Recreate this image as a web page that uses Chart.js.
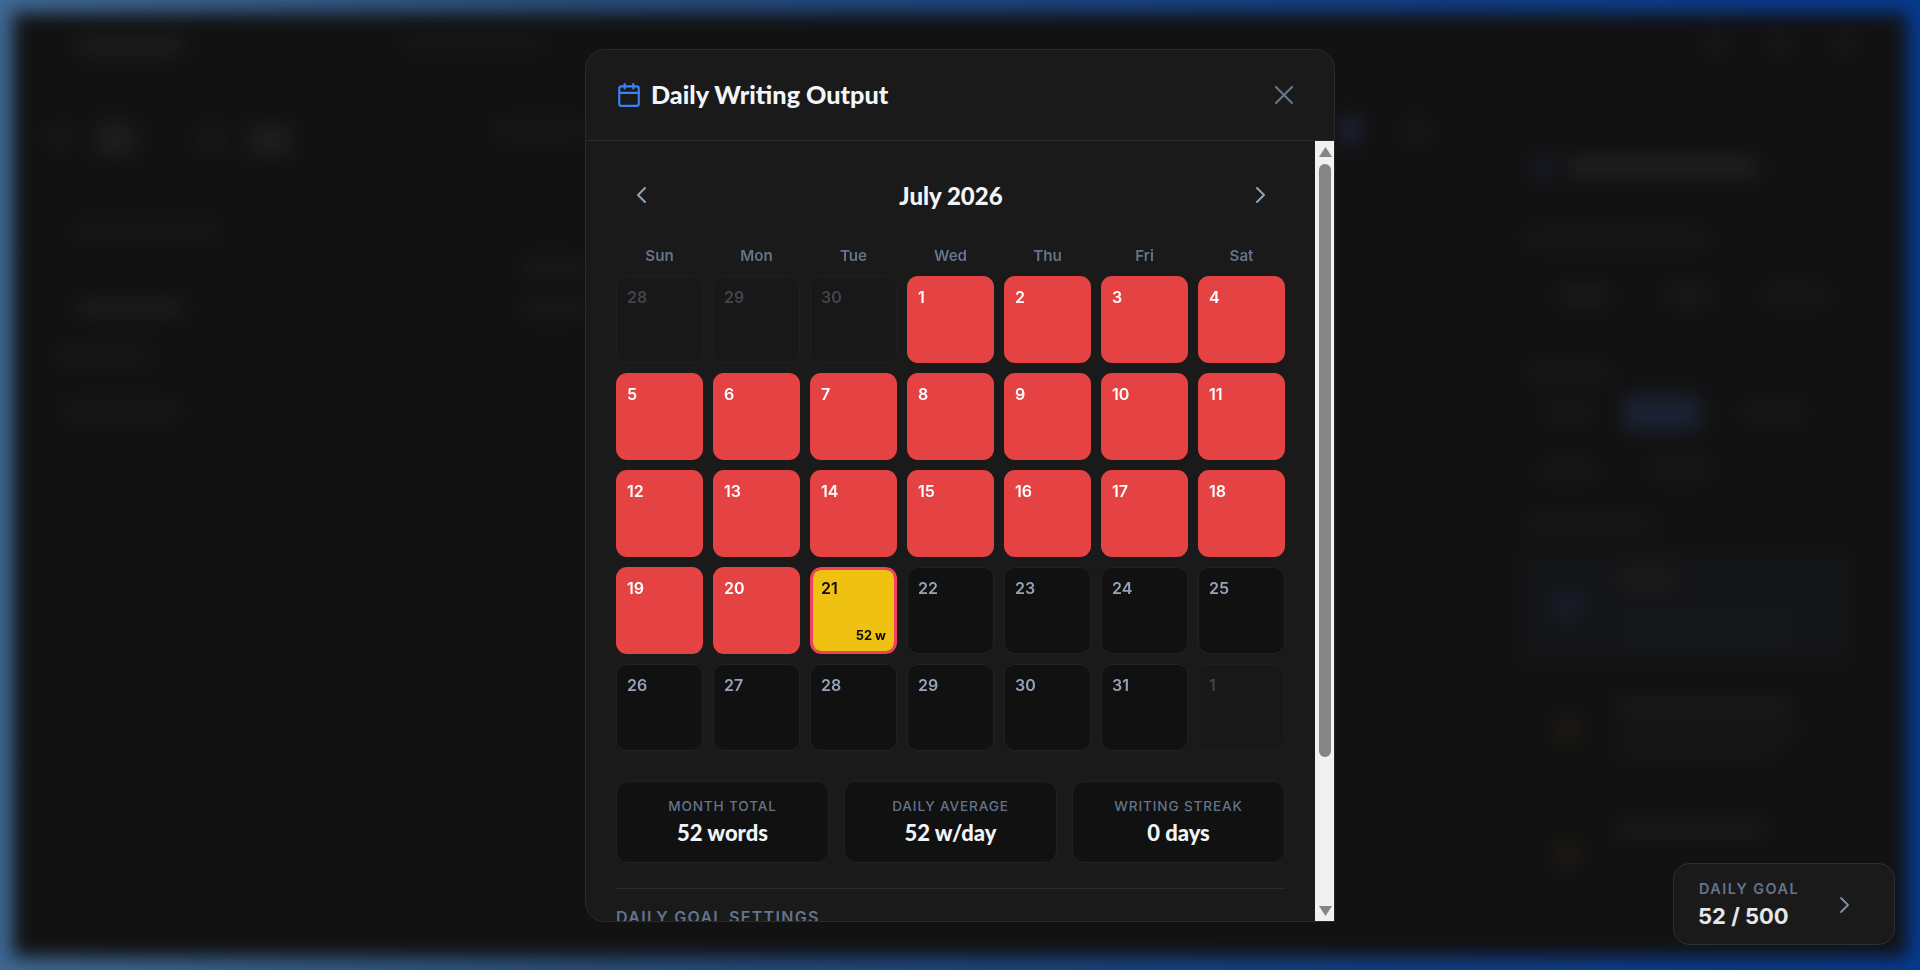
<!DOCTYPE html>
<html>
<head>
<meta charset="utf-8">
<title>Daily Writing Output</title>
<script src="https://cdn.jsdelivr.net/npm/chart.js@4"></script>
<style>
html,body{margin:0;padding:0;width:1920px;height:970px;overflow:hidden}
body{background:linear-gradient(90deg,#3f6894 0%,#294e7c 30%,#123f85 70%,#063a90 100%);font-family:Inter,sans-serif;position:relative}
.blur{position:absolute;left:0;top:0;width:1920px;height:970px;filter:blur(9px)}
.app{position:absolute;left:13px;top:13px;right:13px;bottom:13px;background:#121212}
.b{position:absolute;background:#1d1d1d;border-radius:4px}
.b.f{background:#181919}
.b.u{background:#171c2a}
.b.y{background:#1f1b13}
.modal{position:absolute;left:585px;top:49px;width:750px;height:873px;box-sizing:border-box;background:#1a1a1a;border:1px solid #2a2a2a;border-radius:20px 20px 0 20px;overflow:hidden}
.abs{position:absolute;white-space:nowrap}
.title,.month,.val{font-family:Lato,sans-serif;font-weight:900;color:#f1f5f9}
.head{left:0;top:90px;width:750px;height:1px;background:#2a2a2a}
.track{position:absolute;left:729px;top:91px;width:20px;bottom:0;background:#f1f1f1}
.thumb{position:absolute;left:4px;top:23px;width:12px;height:593px;background:#858585;border-radius:6px}
.up,.dn{position:absolute;left:4px;width:13px;height:10px;background:#858585}
.up{top:6px;clip-path:polygon(50% 0,100% 100%,0 100%)}
.dn{bottom:5px;clip-path:polygon(0 0,100% 0,50% 100%)}
.stat{position:absolute;top:731px;height:82px;width:213px;box-sizing:border-box;background:#111;border:1px solid #222;border-radius:12px;text-align:center}
.stat .lab{position:absolute;left:0;right:0;top:15px;font-size:13.6px;font-weight:500;letter-spacing:.85px;color:#64748b;line-height:18px}
.stat .val{position:absolute;left:0;right:0;top:36px;font-size:22px;line-height:30px}
.goal{position:absolute;left:1673px;top:863px;width:222px;height:82px;box-sizing:border-box;background:#1a1a1a;border:1px solid #2a2f35;border-radius:16px}
canvas{position:absolute;display:block}
</style>
</head>
<body>
<div class="blur">
  <div class="app"></div>
  <div class="b" style="left:78px;top:36px;width:105px;height:18px"></div>
  <div class="b f" style="left:50px;top:128px;width:22px;height:20px"></div>
  <div class="b" style="left:96px;top:122px;width:38px;height:34px"></div>
  <div class="b f" style="left:198px;top:128px;width:28px;height:20px"></div>
  <div class="b" style="left:250px;top:124px;width:40px;height:32px"></div>
  <div class="b f" style="left:76px;top:224px;width:142px;height:12px"></div>
  <div class="b" style="left:78px;top:300px;width:104px;height:16px"></div>
  <div class="b f" style="left:54px;top:350px;width:96px;height:12px"></div>
  <div class="b f" style="left:66px;top:402px;width:110px;height:16px"></div>
  <div class="b f" style="left:404px;top:38px;width:140px;height:10px"></div>
  <div class="b f" style="left:496px;top:122px;width:90px;height:14px"></div>
  <div class="b f" style="left:524px;top:258px;width:60px;height:20px"></div>
  <div class="b f" style="left:524px;top:300px;width:60px;height:18px"></div>
  <div class="b u" style="left:1340px;top:116px;width:20px;height:28px;background:#1b2233"></div>
  <div class="b f" style="left:1408px;top:120px;width:20px;height:22px"></div>
  <div class="b f" style="left:1706px;top:34px;width:18px;height:18px"></div>
  <div class="b f" style="left:1770px;top:34px;width:18px;height:18px"></div>
  <div class="b f" style="left:1836px;top:34px;width:18px;height:18px"></div>
  <div class="b u" style="left:1532px;top:158px;width:22px;height:20px"></div>
  <div class="b" style="left:1568px;top:157px;width:188px;height:20px;background:#1f1f1f"></div>
  <div class="b f" style="left:1527px;top:232px;width:180px;height:14px"></div>
  <div class="b" style="left:1560px;top:288px;width:48px;height:14px"></div>
  <div class="b f" style="left:1666px;top:286px;width:44px;height:18px"></div>
  <div class="b f" style="left:1764px;top:288px;width:62px;height:14px"></div>
  <div class="b f" style="left:1530px;top:366px;width:78px;height:14px"></div>
  <div class="b u" style="left:1624px;top:396px;width:76px;height:34px;background:#1b2233"></div>
  <div class="b f" style="left:1548px;top:404px;width:42px;height:16px"></div>
  <div class="b f" style="left:1744px;top:404px;width:58px;height:16px"></div>
  <div class="b f" style="left:1542px;top:462px;width:52px;height:16px"></div>
  <div class="b f" style="left:1652px;top:462px;width:56px;height:16px"></div>
  <div class="b f" style="left:1527px;top:518px;width:126px;height:12px"></div>
  <div class="b f" style="left:1520px;top:552px;width:330px;height:110px;background:#141517"></div>
  <div class="b u" style="left:1552px;top:590px;width:30px;height:30px"></div>
  <div class="b" style="left:1618px;top:572px;width:58px;height:14px"></div>
  <div class="b f" style="left:1618px;top:612px;width:180px;height:10px"></div>
  <div class="b f" style="left:1618px;top:632px;width:180px;height:10px"></div>
  <div class="b" style="left:1618px;top:700px;width:170px;height:12px"></div>
  <div class="b y" style="left:1556px;top:718px;width:22px;height:22px"></div>
  <div class="b f" style="left:1618px;top:724px;width:180px;height:10px"></div>
  <div class="b f" style="left:1618px;top:744px;width:160px;height:10px"></div>
  <div class="b" style="left:1618px;top:824px;width:145px;height:12px"></div>
  <div class="b y" style="left:1556px;top:843px;width:22px;height:22px"></div>
</div>

<div class="modal">
  <svg class="abs" style="left:30px;top:32px" width="26" height="26" viewBox="0 0 24 24" fill="none" stroke="#3b82f6" stroke-width="2" stroke-linecap="round" stroke-linejoin="round"><rect x="3" y="4" width="18" height="18" rx="2"/><line x1="16" y1="2" x2="16" y2="6"/><line x1="8" y1="2" x2="8" y2="6"/><line x1="3" y1="10" x2="21" y2="10"/></svg>
  <div class="abs title" style="left:65px;top:27px;font-size:25.2px;line-height:34px">Daily Writing Output</div>
  <svg class="abs" style="left:688px;top:35px" width="20" height="20" viewBox="0 0 20 20" fill="none" stroke="#64748b" stroke-width="2.2" stroke-linecap="round"><line x1="2" y1="2" x2="18" y2="18"/><line x1="18" y1="2" x2="2" y2="18"/></svg>
  <div class="abs head"></div>
  <svg class="abs" style="left:50px;top:136px" width="12" height="18" viewBox="0 0 12 18" fill="none" stroke="#94a3b8" stroke-width="2" stroke-linecap="round" stroke-linejoin="round"><polyline points="9,2 2,9 9,16"/></svg>
  <svg class="abs" style="left:668px;top:136px" width="12" height="18" viewBox="0 0 12 18" fill="none" stroke="#94a3b8" stroke-width="2" stroke-linecap="round" stroke-linejoin="round"><polyline points="3,2 10,9 3,16"/></svg>
  <div class="abs month" style="left:0;width:730px;top:129px;text-align:center;font-size:24px;line-height:34px">July 2026</div>

  <div class="stat" style="left:30px"><div class="lab">MONTH TOTAL</div><div class="val">52 words</div></div>
  <div class="stat" style="left:258px"><div class="lab">DAILY AVERAGE</div><div class="val">52 w/day</div></div>
  <div class="stat" style="left:486px"><div class="lab">WRITING STREAK</div><div class="val">0 days</div></div>
  <div class="abs" style="left:30px;top:838px;width:669px;height:1px;background:#2a2a2a"></div>
  <div class="abs" style="left:30px;top:857px;font-size:16px;font-weight:600;letter-spacing:1.3px;color:#64748b;line-height:20px">DAILY GOAL SETTINGS</div>

  <div class="track"><div class="up"></div><div class="thumb"></div><div class="dn"></div></div>
</div>

<canvas id="cal" width="679" height="516" style="left:611px;top:240px"></canvas>

<div class="goal">
  <div class="abs" style="left:25px;top:16px;font-size:14.4px;font-weight:600;letter-spacing:1.5px;color:#64748b;line-height:18px">DAILY GOAL</div>
  <div class="abs" style="left:24px;top:38px;font-size:22px;font-weight:700;color:#e5e7eb;line-height:28px">52 / 500</div>
  <svg class="abs" style="left:164px;top:32px" width="14" height="18" viewBox="0 0 14 18" fill="none" stroke="#7f8ea3" stroke-width="1.8" stroke-linecap="round" stroke-linejoin="round"><polyline points="3,2 10,9 3,16"/></svg>
</div>

<script>
// calendar data
const weekdays = ['Sun','Mon','Tue','Wed','Thu','Fri','Sat'];
const week1Days = [28,29,30,1,2,3,4];
const week2Days = [5,6,7,8,9,10,11];
const week3Days = [12,13,14,15,16,17,18];
const week4Days = [19,20,21,22,23,24,25];
const week5Days = [26,27,28,29,30,31,1];
// words written per cell, shown only where the cell has a count
const week1Words = [null,null,null,0,0,0,0];
const week2Words = [0,0,0,0,0,0,0];
const week3Words = [0,0,0,0,0,0,0];
const week4Words = [0,0,52,null,null,null,null];
const week5Words = [null,null,null,null,null,null,null];
// cells outside July
const week1Outside = [true,true,true,false,false,false,false];
const week5Outside = [false,false,false,false,false,false,true];

const weeks = [
  {days:week1Days, words:week1Words, outside:week1Outside},
  {days:week2Days, words:week2Words},
  {days:week3Days, words:week3Words},
  {days:week4Days, words:week4Words},
  {days:week5Days, words:week5Words, outside:week5Outside},
];

const cellShare = 87/97; // cell size against the row pitch

function look(words, outside){
  if(outside) return {bg:'#181818', border:'#1f1f1f', bw:1, text:'#41454d'};
  if(words===0) return {bg:'#e54343', border:'#e54343', bw:0, text:'#ffffff'};
  if(words>0) return {bg:'#eec113', border:'#f0415f', bw:3, text:'#0b0b0b'};
  return {bg:'#111111', border:'#222222', bw:1, text:'#94a3b8'};
}

const datasets = weeks.map((w,row)=>{
  const looks = w.days.map((d,i)=>look(w.words[i], w.outside && w.outside[i]));
  const pad = (1-cellShare)/2;
  return {
    label:'Week '+(row+1),
    data:w.days.map(()=>[row+pad, row+1-pad]),
    backgroundColor:looks.map(l=>l.bg),
    borderColor:looks.map(l=>l.border),
    borderWidth:looks.map(l=>l.bw),
    borderRadius:11,
    borderSkipped:false,
    inflateAmount:0,
    barPercentage:cellShare,
    categoryPercentage:1,
    grouped:false
  };
});

// day number top left, word count bottom right
const cellText = {
  id:'cellText',
  afterDatasetsDraw(chart){
    const ctx = chart.ctx;
    weeks.forEach((w,row)=>{
      chart.getDatasetMeta(row).data.forEach((bar,i)=>{
        const l = look(w.words[i], w.outside && w.outside[i]);
        const left = bar.x-bar.width/2, right = bar.x+bar.width/2;
        const top = Math.min(bar.y,bar.base), bottom = Math.max(bar.y,bar.base);
        ctx.save();
        ctx.fillStyle = l.text;
        ctx.textBaseline = 'middle';
        ctx.textAlign = 'left';
        ctx.font = '600 16px Inter';
        ctx.fillText(String(w.days[i]), left+11, top+22);
        if(w.words[i]>0){
          ctx.textAlign = 'right';
          ctx.font = '700 12.8px Inter';
          ctx.fillText(w.words[i]+' w', right-11, bottom-18);
        }
        ctx.restore();
      });
    });
  }
};

new Chart(document.getElementById('cal'),{
  type:'bar',
  data:{labels:weekdays,datasets},
  plugins:[cellText],
  options:{
    responsive:false,
    devicePixelRatio:1,
    animation:false,
    layout:{padding:0},
    plugins:{legend:{display:false},tooltip:{enabled:false}},
    scales:{
      x:{
        position:'top',
        afterFit(s){s.height=31},
        grid:{display:false,drawTicks:false},
        border:{display:false},
        ticks:{color:'#64748b',font:{family:'Inter',size:15.2,weight:'600'},padding:5,maxRotation:0}
      },
      y:{
        display:false,
        reverse:true,
        min:0,
        max:weeks.length
      }
    }
  }
});
</script>
</body>
</html>
